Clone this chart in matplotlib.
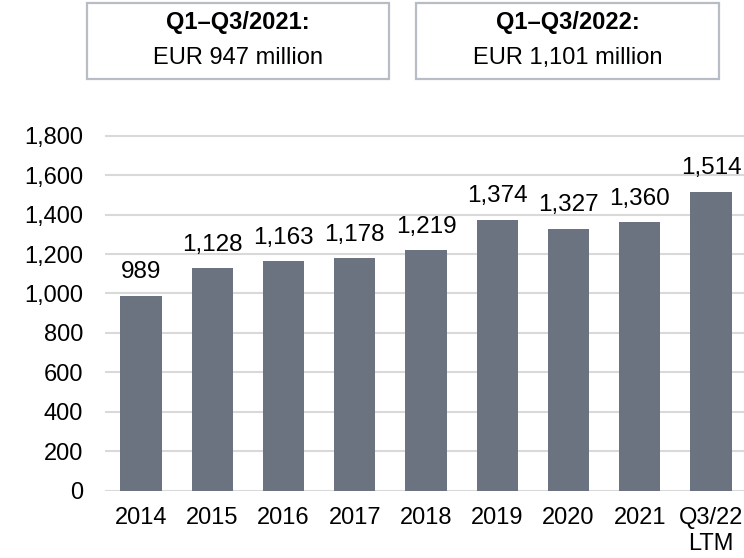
import matplotlib
matplotlib.use("Agg")
import matplotlib.pyplot as plt
from matplotlib.patches import Rectangle

plt.rcParams["font.family"] = ["Liberation Sans", "DejaVu Sans"]

# Data
categories = ["2014", "2015", "2016", "2017", "2018", "2019", "2020", "2021", "Q3/22\nLTM"]
values = [989, 1128, 1163, 1178, 1219, 1374, 1327, 1360, 1514]
box_titles = ["Q1\u2013Q3/2021:", "Q1\u2013Q3/2022:"]
box_texts = ["EUR 947 million", "EUR 1,101 million"]

bar_color = "#6b7280"
grid_color = "#d9d9d9"
box_edge = "#b8bcc4"
W, H = 744, 558

fig = plt.figure(figsize=(W / 100, H / 100), dpi=100)

# axes placed in pixel terms: x centers 141..711, y zero at 490.7 px from top
unit_x = (711 - 141) / 8
left = 141 - 0.5 * unit_x
ax_w = 9 * unit_x
per_val = (490.7 - 135.7) / 1800
ytop = 1850
bottom = H - 490.7
ax = fig.add_axes([left / W, bottom / H, ax_w / W, ytop * per_val / H])

x = range(len(categories))
ax.bar(x, values, width=0.58, color=bar_color, zorder=2)

for xi, v in zip(x, values):
    ax.annotate(f"{v:,}", (xi, v), xytext=(0, 17), textcoords="offset points",
                ha="center", va="center", fontsize=17.5, color="black")

ax.set_xlim(-0.5, 8.5)
ax.set_ylim(0, ytop)
ax.set_yticks(range(0, 1801, 200))
ax.set_yticklabels([f"{t:,}" for t in range(0, 1801, 200)])
ax.set_xticks(list(x))
ax.set_xticklabels(categories, linespacing=1.2)
ax.tick_params(axis="y", length=0, pad=16, labelsize=17)
ax.tick_params(axis="x", length=0, pad=12, labelsize=17)
ax.grid(axis="y", color=grid_color, linewidth=1.5, zorder=0)
for s in ax.spines.values():
    s.set_visible(False)

# Summary boxes at the top
boxes = [(86.7, 389), (416, 719)]
for (x0, x1), title, text in zip(boxes, box_titles, box_texts):
    rect = Rectangle((x0 / W, 1 - 79 / H), (x1 - x0) / W, (79 - 3.3) / H,
                     transform=fig.transFigure, fill=False,
                     edgecolor=box_edge, linewidth=1.6)
    fig.patches.append(rect)
    cx = (x0 + x1) / 2 / W
    fig.text(cx, 1 - 23 / H, title, ha="center", va="center",
             fontsize=17, fontweight="bold")
    fig.text(cx, 1 - 58 / H, text, ha="center", va="center", fontsize=17)

fig.savefig("out.png", dpi=100)
